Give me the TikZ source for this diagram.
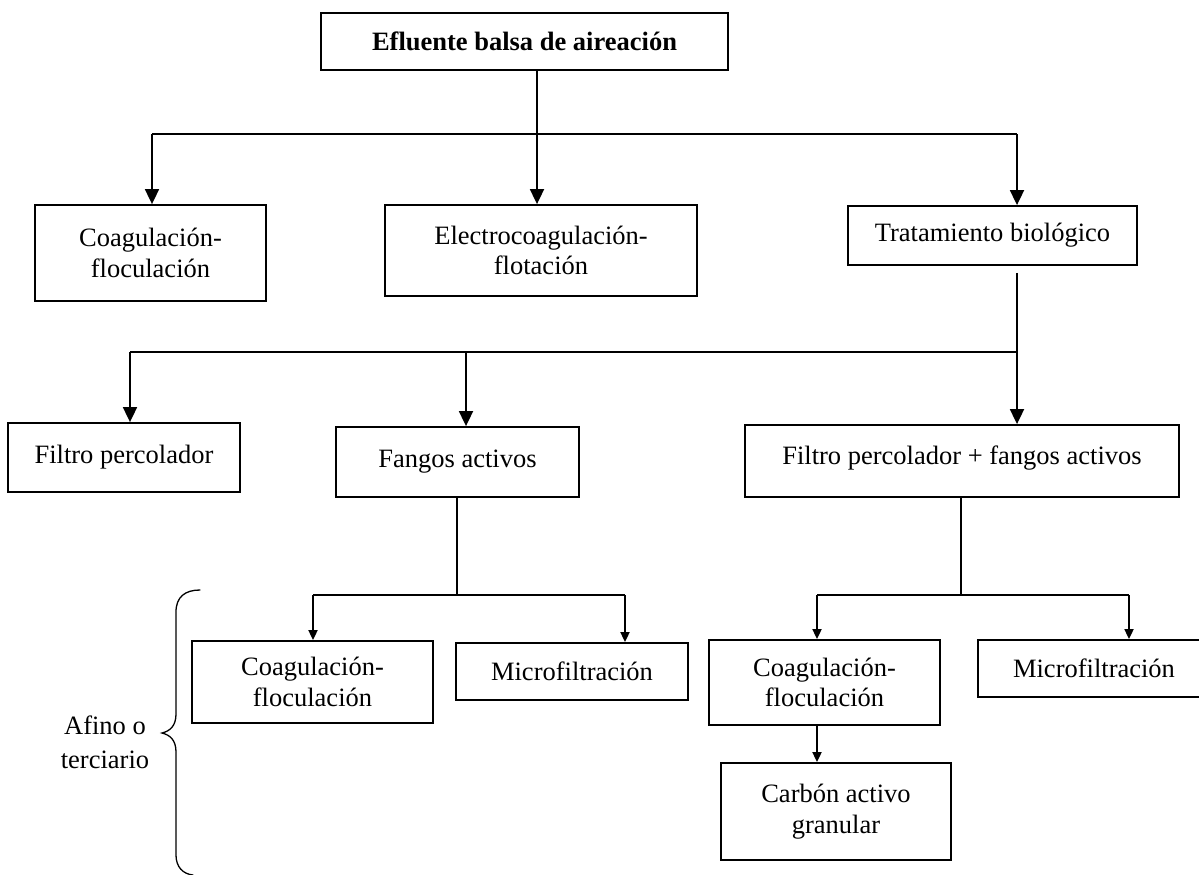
\documentclass[tikz,border=0pt]{standalone}
\usepackage{fontspec}
\setmainfont{Liberation Serif}
\usetikzlibrary{arrows.meta}
\begin{document}
\begin{tikzpicture}[x=1pt,y=-1pt,
  box/.style={draw, line width=1.8pt, inner sep=0pt, align=center, font=\fontsize{26.5}{30.5}\selectfont},
  conn/.style={line width=1.8pt},
  bigarr/.style={conn, -{Triangle[width=14pt,length=15pt]}},
  smallarr/.style={conn, -{Triangle[width=9pt,length=10pt]}},
  bracestyle/.style={line width=1.3pt, line cap=round},
  lbl/.style={align=center, inner sep=0pt, font=\fontsize{26.5}{34}\selectfont}]
\useasboundingbox (0,0) rectangle (1199,875);
\clip (0,0) rectangle (1199,875);

% boxes
\node[box, minimum width=407pt, minimum height=57pt, font=\fontsize{26.5}{30.5}\selectfont\bfseries] (top) at (524.5,41.5) {Efluente balsa de aireación};
\node[box, minimum width=231pt, minimum height=96pt] (coag) at (150.5,253) {Coagulación-\\floculación};
\node[box, minimum width=312pt, minimum height=91pt] (elec) at (541,250.5) {Electrocoagulación-\\flotación};
\node[box, minimum width=289pt, minimum height=59pt] (trat) at (992.5,235.5) {Tratamiento biológico};
\node[box, minimum width=232pt, minimum height=69pt] (filtro) at (124,457.5) {\raisebox{6pt}{Filtro percolador}};
\node[box, minimum width=243pt, minimum height=70pt] (fangos) at (457.5,462) {\raisebox{4pt}{Fangos activos}};
\node[box, minimum width=434pt, minimum height=72pt] (ff) at (962,461) {\raisebox{11pt}{Filtro percolador + fangos activos}};
\node[box, minimum width=241pt, minimum height=82pt] (coag2) at (312.5,682) {Coagulación-\\floculación};
\node[box, minimum width=232pt, minimum height=57pt] (micro) at (572,671.5) {Microfiltración};
\node[box, minimum width=231pt, minimum height=85pt] (coag3) at (824.5,682.5) {Coagulación-\\floculación};
\node[box, minimum width=232pt, minimum height=57pt] (micro2) at (1094,668.5) {Microfiltración};
\node[box, minimum width=230pt, minimum height=97pt] (carbon) at (836,811.5) {Carbón activo\\granular};
\node[lbl] (afino) at (105,742) {Afino o\\terciario};

% level 1
\coordinate (j1) at (537,134);
\coordinate (jT) at (1017,134);
\coordinate (jC) at (152,134);
\draw[conn] (top.south -| j1) -- (j1);
\draw[conn] (jC) -- (jT);
\draw[bigarr] (jC) -- (jC |- coag.north);
\draw[bigarr] (j1) -- (j1 |- elec.north);
\draw[bigarr] (jT) -- (jT |- trat.north);

% level 2
\coordinate (j2) at (1017,352);
\coordinate (jF) at (130,352);
\coordinate (jG) at (466,352);
\draw[conn] ([yshift=-7pt]trat.south -| j2) -- (j2);
\draw[conn] (jF) -- (j2);
\draw[bigarr] (jF) -- (jF |- filtro.north);
\draw[bigarr] (jG) -- (jG |- fangos.north);
\draw[bigarr] (j2) -- (j2 |- ff.north);

% level 3 (fangos)
\coordinate (j3) at (457,595);
\coordinate (jL) at (313,595);
\coordinate (jM) at (625,595);
\draw[conn] (fangos.south -| j3) -- (j3);
\draw[conn] (jL) -- (jM);
\draw[smallarr] (jL) -- (jL |- coag2.north);
\draw[smallarr] (jM) -- (jM |- micro.north);

% level 3 (ff)
\coordinate (j4) at (961,595);
\coordinate (jA) at (817,595);
\coordinate (jB) at (1129,595);
\draw[conn] (ff.south -| j4) -- (j4);
\draw[conn] (jA) -- (jB);
\draw[smallarr] (jA) -- (jA |- coag3.north);
\draw[smallarr] (jB) -- (jB |- micro2.north);
\draw[smallarr] (jA |- coag3.south) -- (jA |- carbon.north);

% brace
\coordinate (bt) at (200,590);
\coordinate (bm) at (162,733);
\coordinate (bb) at (193,875);
\draw[bracestyle] (bt) .. controls (185,590) and (176,597) .. (176,612) -- (176,714)
  .. controls (176,726) and (170,731) .. (bm)
  .. controls (170,735) and (176,740) .. (176,752) -- (176,855)
  .. controls (176,867) and (183,874) .. (bb);
\end{tikzpicture}
\end{document}
